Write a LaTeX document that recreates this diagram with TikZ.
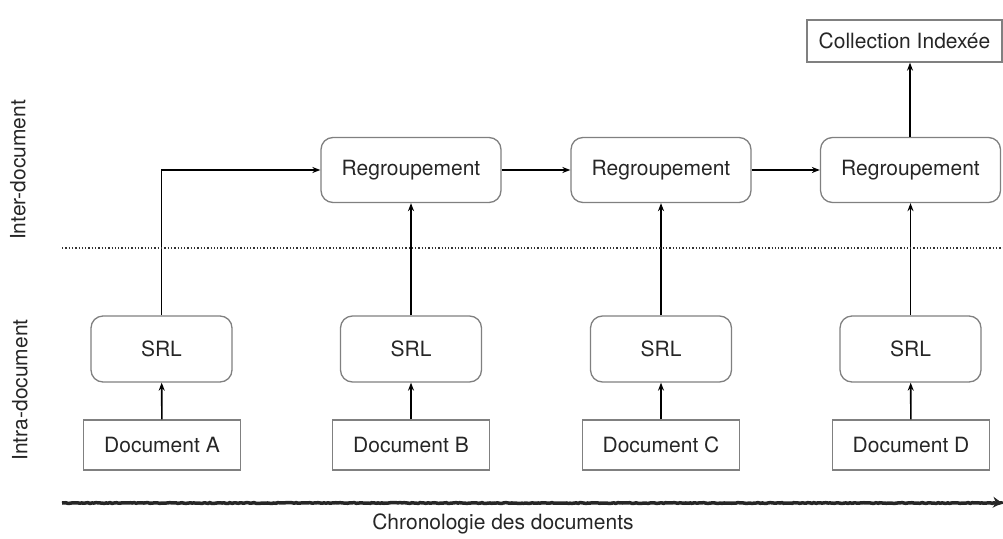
\documentclass[tikz,border=0pt]{standalone}
\usepackage{fontspec}
\setmainfont{TeX Gyre Heros}
\usetikzlibrary{arrows.meta,decorations.pathmorphing}
\begin{document}
\begin{tikzpicture}[x=1pt,y=-1pt,
  every node/.style={font=\fontsize{21}{24}\selectfont, text=black!85},
  docbox/.style={draw=black!50, line width=1.3pt, minimum width=157pt, minimum height=50pt, inner sep=0pt},
  srlbox/.style={draw=black!50, line width=1.3pt, rounded corners=12pt, minimum width=141pt, minimum height=66pt, inner sep=0pt},
  regbox/.style={draw=black!50, line width=1.3pt, rounded corners=12pt, minimum width=180pt, minimum height=65pt, inner sep=0pt},
  conn/.style={-{Stealth[length=8pt,width=6pt]}, line width=1.6pt, black}
]
\useasboundingbox (0,0) rectangle (1003,538);
% documents
\node[docbox] (dA) at (162,445) {Document A};
\node[docbox] (dB) at (411,445) {Document B};
\node[docbox] (dC) at (661,445) {Document C};
\node[docbox] (dD) at (911,445) {Document D};
% SRL
\node[srlbox] (sA) at (161.5,349) {SRL};
\node[srlbox] (sB) at (411,349) {SRL};
\node[srlbox] (sC) at (661,349) {SRL};
\node[srlbox] (sD) at (910.5,349) {SRL};
% Regroupement
\node[regbox] (rB) at (411,170) {Regroupement};
\node[regbox] (rC) at (661,170) {Regroupement};
\node[regbox] (rD) at (910.5,170) {Regroupement};
% Collection
\node[docbox, minimum width=195pt, minimum height=42pt] (col) at (904.5,41) {Collection Indexée};
% arrows
\draw[conn] (dA) -- (sA);
\draw[conn] (dB) -- (sB);
\draw[conn] (dC) -- (sC);
\draw[conn] (dD) -- (sD);
\draw[conn] (sA.north) |- (rB.west);
\draw[conn] (sB) -- (rB);
\draw[conn] (sC) -- (rC);
\draw[conn] (sD) -- (rD);
\draw[conn] (rB) -- (rC);
\draw[conn] (rC) -- (rD);
\draw[conn] (rD.north -| 910,0) -- (col.south -| 910,0);
% separator
\coordinate (sepL) at (62,248);
\coordinate (sepR) at (1003,248);
\draw[dotted, line width=1.3pt, black!80] (sepL) -- (sepR);
% side labels
\node[rotate=90] (inter) at (18,170) {Inter-document};
\node[rotate=90] (intra) at (20,390) {Intra-document};
% timeline
\coordinate (tL) at (62,503);
\coordinate (tR) at (1002,503);
\draw[line width=3.5pt, black!85, decorate, decoration={random steps, segment length=2pt, amplitude=0.4pt}, -{Stealth[length=9pt,width=11pt]}] (tL) -- (tR);
\node (chrono) at (503,524) {Chronologie des documents};
\end{tikzpicture}
\end{document}
